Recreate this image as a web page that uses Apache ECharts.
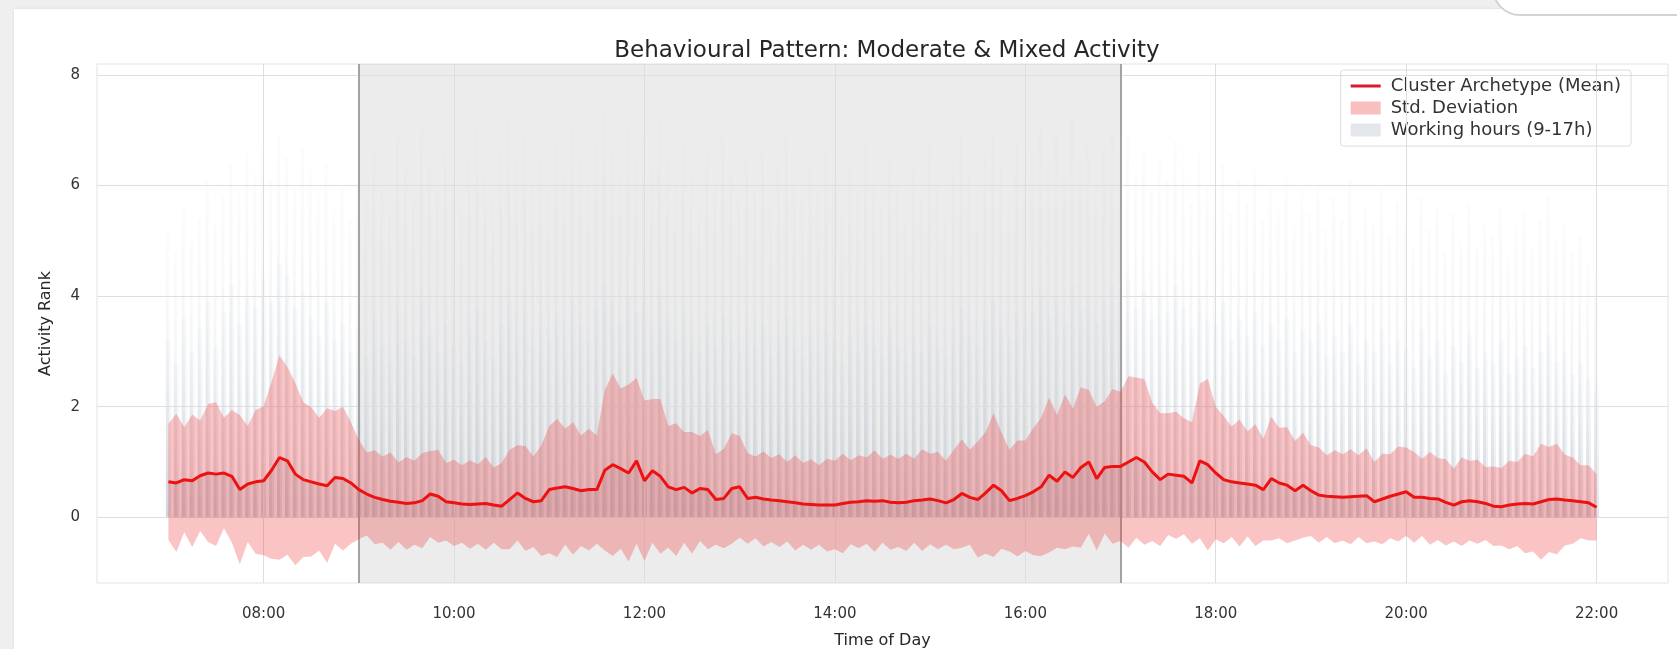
<!DOCTYPE html>
<html>
<head>
<meta charset="utf-8">
<script src="https://cdn.jsdelivr.net/npm/echarts@6/dist/echarts.min.js"></script>
<style>
  html, body { margin: 0; padding: 0; width: 1677px; height: 649px; overflow: hidden; background: #efefef; }
  #card { position: absolute; left: 14px; top: 9px; right: 0; bottom: 0; background: #ffffff; box-shadow: 0 0 3px rgba(0,0,0,0.08); }
  #pill { position: absolute; left: 1492px; top: -44px; width: 240px; height: 56px; border-radius: 28px; background: #ffffff; border: 2px solid #d2d2d2; }
  #chart { position: absolute; left: 0; top: 0; width: 1677px; height: 649px; }
</style>
</head>
<body>
<div id="card"></div>
<div id="pill"></div>
<div id="chart"></div>
<script>
// ---- data (5-minute samples from 07:00 to 22:00) ----
const startMinute = 420;
const stepMinutes = 5;

const meanValues = [
  0.64,0.62,0.68,0.66,0.75,0.80,0.78,0.80,0.74,0.50,0.60,0.64,
  0.66,0.85,1.08,1.02,0.78,0.68,0.64,0.60,0.57,0.72,0.70,0.62,
  0.50,0.42,0.36,0.32,0.29,0.27,0.25,0.26,0.30,0.42,0.38,0.28,
  0.26,0.24,0.23,0.24,0.25,0.22,0.20,0.32,0.44,0.34,0.28,0.30,
  0.50,0.53,0.55,0.52,0.48,0.50,0.50,0.85,0.95,0.88,0.80,1.02,
  0.66,0.84,0.74,0.55,0.50,0.54,0.44,0.52,0.50,0.32,0.34,0.52,
  0.55,0.34,0.36,0.33,0.31,0.30,0.28,0.26,0.24,0.23,0.22,0.22,
  0.22,0.25,0.27,0.28,0.30,0.29,0.30,0.27,0.26,0.27,0.30,0.31,
  0.33,0.30,0.26,0.32,0.43,0.36,0.32,0.44,0.58,0.48,0.30,0.34,
  0.39,0.46,0.55,0.76,0.65,0.82,0.72,0.90,1.00,0.70,0.90,0.92,
  0.92,1.00,1.08,1.00,0.82,0.68,0.78,0.76,0.74,0.62,1.02,0.95,
  0.80,0.68,0.64,0.62,0.60,0.58,0.50,0.70,0.62,0.58,0.48,0.58,
  0.48,0.40,0.38,0.37,0.36,0.37,0.38,0.39,0.28,0.33,0.38,0.42,
  0.46,0.36,0.36,0.34,0.33,0.27,0.22,0.28,0.30,0.28,0.25,0.20,
  0.19,0.22,0.24,0.25,0.24,0.28,0.32,0.33,0.31,0.30,0.28,0.26,
  0.18
];

const stdValues = [
  1.05,1.25,0.95,1.20,1.00,1.25,1.30,1.00,1.20,1.35,1.05,1.30,
  1.35,1.60,1.85,1.70,1.65,1.40,1.35,1.20,1.40,1.20,1.30,1.10,
  0.90,0.75,0.85,0.78,0.88,0.72,0.84,0.76,0.86,0.78,0.84,0.70,
  0.78,0.70,0.80,0.72,0.84,0.68,0.78,0.90,0.86,0.95,0.82,1.00,
  1.15,1.25,1.05,1.20,1.00,1.10,0.98,1.45,1.65,1.45,1.60,1.50,
  1.45,1.30,1.40,1.10,1.20,1.00,1.10,0.95,1.08,0.82,0.90,1.00,
  0.92,0.82,0.74,0.86,0.76,0.84,0.72,0.86,0.74,0.82,0.72,0.84,
  0.80,0.90,0.76,0.84,0.78,0.92,0.76,0.86,0.80,0.88,0.76,0.92,
  0.82,0.88,0.76,0.90,0.98,0.86,1.05,1.10,1.30,1.05,0.92,1.05,
  1.00,1.15,1.25,1.40,1.20,1.40,1.25,1.45,1.30,1.30,1.20,1.40,
  1.35,1.55,1.45,1.50,1.25,1.20,1.10,1.15,1.05,1.10,1.40,1.55,
  1.20,1.15,1.00,1.15,0.95,1.10,0.92,1.12,1.00,1.05,0.90,0.95,
  0.82,0.86,0.74,0.84,0.78,0.86,0.74,0.86,0.72,0.82,0.76,0.86,
  0.80,0.82,0.70,0.84,0.74,0.78,0.66,0.80,0.72,0.76,0.66,0.72,
  0.70,0.80,0.76,0.90,0.86,1.05,0.95,1.00,0.82,0.78,0.66,0.68,
  0.60
];

// faint upper reach of the individual gray traces
const tracePeak = [
  5.2,4.8,5.6,5.0,5.4,6.1,5.3,5.8,6.4,5.9,6.6,6.2,
  6.8,6.1,6.9,6.5,6.0,6.7,6.3,5.9,6.4,5.6,6.0,5.4,
  6.2,5.7,6.6,6.0,5.5,6.9,6.3,5.8,7.1,6.4,5.9,6.7,
  6.1,5.6,6.5,7.0,6.2,5.8,6.6,7.2,6.4,6.9,6.0,6.5,
  5.9,6.7,6.2,7.1,6.5,6.0,6.8,7.3,6.6,6.2,7.0,6.4,
  6.9,6.3,7.2,6.5,6.0,6.8,6.2,5.7,6.6,6.1,6.9,6.3,
  5.8,6.5,6.0,6.7,5.6,6.3,6.9,6.1,5.7,6.4,5.9,6.6,
  6.2,5.5,6.4,5.9,6.8,6.1,5.6,6.5,6.0,5.4,6.3,5.8,
  6.7,6.0,5.5,6.4,6.9,6.2,5.8,6.6,7.0,6.3,5.9,6.8,
  6.1,6.6,7.1,6.4,6.9,6.2,7.2,6.5,6.8,6.0,6.7,7.0,
  6.4,6.9,6.2,6.6,5.9,6.5,6.1,6.8,6.3,5.7,6.6,6.0,
  5.8,6.4,5.5,6.1,5.7,6.3,5.4,6.0,5.6,6.2,5.3,5.9,
  5.5,6.0,5.2,5.8,5.4,6.1,5.0,5.6,5.3,5.9,5.1,5.7,
  5.4,4.9,5.8,5.2,5.6,4.8,5.5,5.0,5.7,4.9,5.3,5.1,
  5.6,4.7,5.2,5.5,4.9,5.4,5.8,5.0,5.3,4.8,5.1,4.6,
  4.4
];

// denser part of the gray traces
const traceUpper = [
  3.2,2.8,3.6,3.0,3.4,3.9,3.1,3.7,4.2,3.5,4.0,3.8,
  4.3,3.9,4.6,4.4,3.8,4.1,3.6,3.3,3.9,3.2,3.5,3.0,
  3.4,2.9,3.6,3.1,2.8,3.7,3.2,2.9,3.9,3.3,3.0,3.5,
  3.1,2.8,3.4,3.8,3.2,2.9,3.5,3.9,3.3,3.7,3.1,3.4,
  3.2,3.6,3.3,3.9,3.5,3.2,3.8,4.2,3.9,3.5,4.0,3.7,
  3.9,3.4,4.0,3.6,3.2,3.7,3.3,3.0,3.5,3.1,3.6,3.2,
  3.0,3.4,3.1,3.5,2.9,3.3,3.6,3.1,2.9,3.3,3.0,3.4,
  3.2,2.8,3.3,3.0,3.5,3.1,2.9,3.4,3.1,2.8,3.3,3.0,
  3.5,3.1,2.9,3.4,3.8,3.3,3.1,3.6,3.9,3.4,3.2,3.7,
  3.4,3.7,4.1,3.6,4.0,3.5,4.2,3.8,4.0,3.5,3.9,4.2,
  3.9,4.3,3.8,4.1,3.6,4.0,3.7,4.2,3.8,3.4,4.0,3.6,
  3.5,3.9,3.2,3.6,3.3,3.7,3.1,3.5,3.2,3.6,3.0,3.4,
  3.2,3.5,2.9,3.3,3.0,3.5,2.8,3.2,3.0,3.4,2.8,3.2,
  3.1,2.7,3.4,2.9,3.2,2.6,3.1,2.8,3.3,2.7,3.0,2.8,
  3.2,2.6,2.9,3.1,2.7,3.0,3.3,2.8,3.0,2.6,2.8,2.5,
  2.4
];

const xTickValues = [480, 600, 720, 840, 960, 1080, 1200, 1320];
const xTickLabels = ['08:00', '10:00', '12:00', '14:00', '16:00', '18:00', '20:00', '22:00'];
const yTickValues = [0, 2, 4, 6, 8];
const workStart = 540;   // 09:00
const workEnd = 1020;    // 17:00

// ---- build ----
const FONT = 'DejaVu Sans';
const timeMinutes = meanValues.map((_, i) => startMinute + i * stepMinutes);
const pairs = arr => arr.map((v, i) => [timeMinutes[i], v]);
const upperValues = meanValues.map((m, i) => m + stdValues[i]);
const lowerValues = meanValues.map((m, i) => m - stdValues[i]);

const chart = echarts.init(document.getElementById('chart'), null, { renderer: 'canvas' });

const grayGrad = (a0, a1) => new echarts.graphic.LinearGradient(0, 0, 0, 1, [
  { offset: 0, color: 'rgba(205,213,222,' + a0 + ')' },
  { offset: 1, color: 'rgba(160,172,186,' + a1 + ')' }
]);

const BAND_FILL = 'rgba(238,60,64,0.3)';

const option = {
  animation: false,
  backgroundColor: 'transparent',
  title: {
    text: 'Behavioural Pattern: Moderate & Mixed Activity',
    left: 882, top: 35, textAlign: 'center',
    textStyle: { fontFamily: FONT, fontSize: 23, fontWeight: 'normal', color: '#262626' }
  },
  grid: {
    left: 97, right: 9, top: 64, bottom: 66,
    outerBoundsMode: 'none', containLabel: false,
    show: true, borderColor: '#e2e2e2', borderWidth: 1, backgroundColor: 'transparent'
  },
  legend: {
    orient: 'vertical', right: 46, top: 70,
    itemWidth: 30, itemHeight: 13, itemGap: 4,
    padding: [7, 10, 7, 10],
    backgroundColor: 'rgba(255,255,255,0.85)', borderColor: '#dcdcdc', borderWidth: 1, borderRadius: 3,
    textStyle: { fontFamily: FONT, fontSize: 18, color: '#333333', padding: [0, 0, 0, 5] },
    data: [
      { name: 'Cluster Archetype (Mean)', icon: 'path://M0,0H30V3H0Z', itemStyle: { color: '#d91a2a' } },
      { name: 'Std. Deviation', icon: 'rect', itemStyle: { color: 'rgba(240,110,115,0.45)' } },
      { name: 'Working hours (9-17h)', icon: 'rect', itemStyle: { color: '#e3e7eb' } }
    ]
  },
  xAxis: {
    type: 'value', min: 375, max: 1365,
    name: 'Time of Day', nameLocation: 'middle', nameGap: 50,
    nameTextStyle: { fontFamily: FONT, fontSize: 16, color: '#262626' },
    axisLine: { show: false }, axisTick: { show: false }, splitLine: { show: false },
    axisLabel: {
      customValues: xTickValues, margin: 24,
      fontFamily: FONT, fontSize: 15, color: '#333333',
      formatter: v => xTickLabels[xTickValues.indexOf(v)] || ''
    }
  },
  yAxis: {
    type: 'value', min: -1.19, max: 8.2,
    name: 'Activity Rank', nameLocation: 'middle', nameGap: 43, nameRotate: 90,
    nameTextStyle: { fontFamily: FONT, fontSize: 16, color: '#262626' },
    axisLine: { show: false }, axisTick: { show: false }, splitLine: { show: false },
    axisLabel: {
      customValues: yTickValues, margin: 17,
      fontFamily: FONT, fontSize: 15, color: '#333333',
      formatter: v => String(v)
    }
  },
  series: [
    {
      name: 'Working hours (9-17h)', type: 'line', data: [], z: 1,
      itemStyle: { color: '#e3e7eb' },
      markArea: {
        silent: true,
        itemStyle: { color: 'rgba(140,140,140,0.17)' },
        data: [[{ xAxis: workStart }, { xAxis: workEnd }]]
      }
    },
    {
      name: 'gridlines', type: 'line', data: [], z: 2,
      markLine: {
        silent: true, symbol: ['none', 'none'], label: { show: false },
        lineStyle: { color: '#dedede', width: 1, type: 'solid' },
        data: xTickValues.map(v => ({ xAxis: v })).concat(yTickValues.map(v => ({ yAxis: v })))
      }
    },
    {
      name: 'tracePeak', type: 'bar', z: 3, barWidth: 3, barGap: '-100%',
      data: pairs(tracePeak),
      itemStyle: { color: grayGrad(0.08, 0.28) }
    },
    {
      name: 'traceUpper', type: 'bar', z: 3, barWidth: 5, barGap: '-100%',
      data: pairs(traceUpper),
      itemStyle: { color: grayGrad(0.1, 0.3) }
    },
    {
      name: 'core', type: 'line', z: 4, symbol: 'none',
      data: pairs(meanValues),
      lineStyle: { width: 0, opacity: 0 },
      areaStyle: { color: 'rgba(110,115,125,0.2)' }
    },
    {
      name: 'Std. Deviation', type: 'custom', z: 5, clip: true,
      itemStyle: { color: 'rgba(240,110,115,0.45)' },
      data: [[timeMinutes[0], meanValues[0]]],
      renderItem: (params, api) => {
        if (params.dataIndex !== 0) return null;
        const pts = [];
        for (let i = 0; i < timeMinutes.length; i++) pts.push(api.coord([timeMinutes[i], upperValues[i]]));
        for (let i = timeMinutes.length - 1; i >= 0; i--) pts.push(api.coord([timeMinutes[i], lowerValues[i]]));
        return { type: 'polygon', shape: { points: pts }, style: { fill: BAND_FILL } };
      }
    },
    {
      name: 'workEdges', type: 'line', data: [], z: 6,
      markLine: {
        silent: true, symbol: ['none', 'none'], label: { show: false },
        lineStyle: { color: '#a3a3a3', width: 2, type: 'solid' },
        data: [{ xAxis: workStart }, { xAxis: workEnd }]
      }
    },
    {
      name: 'Cluster Archetype (Mean)', type: 'line', z: 7, symbol: 'none',
      data: pairs(meanValues),
      itemStyle: { color: '#ee1111' },
      lineStyle: { color: '#ee1111', width: 3 }
    }
  ]
};

chart.setOption(option);
</script>
</body>
</html>
